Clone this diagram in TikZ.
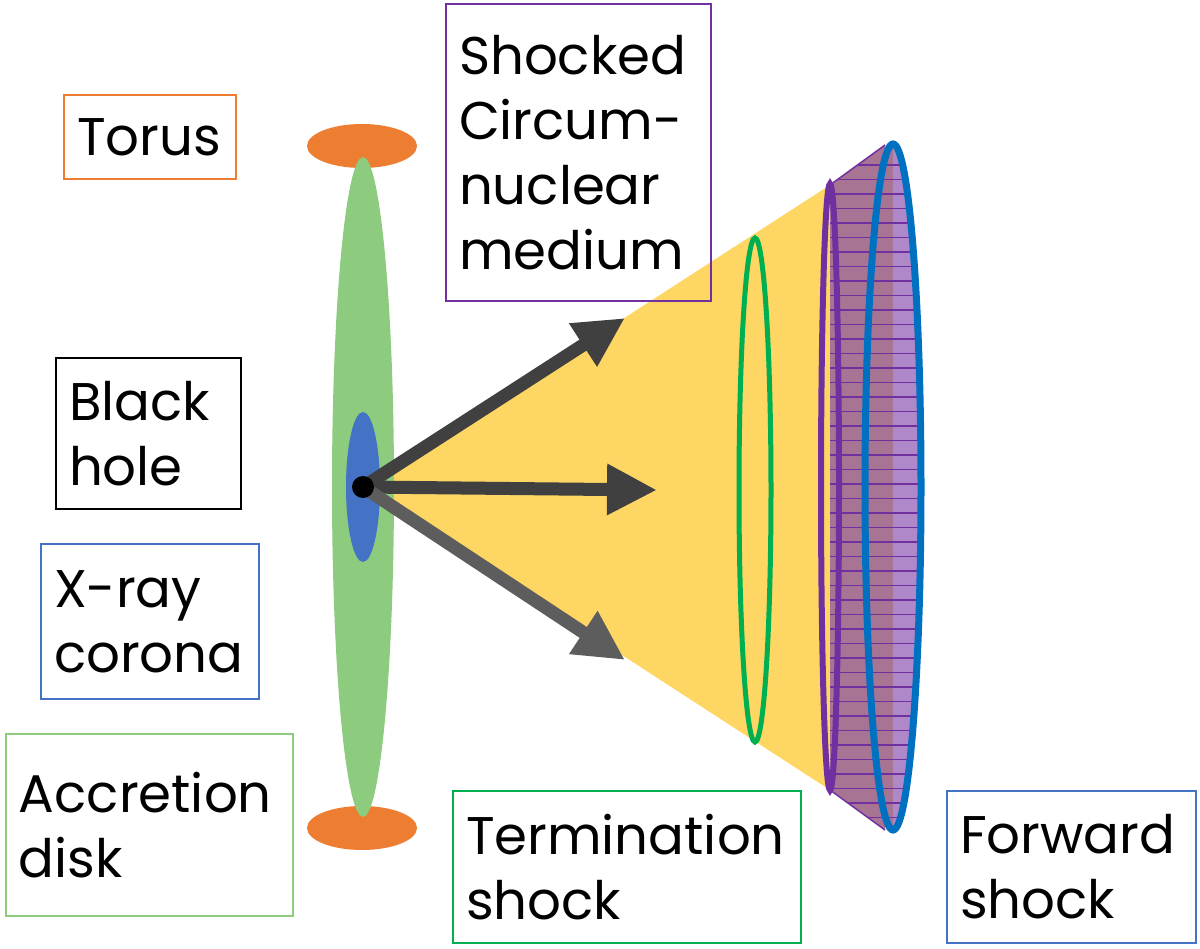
\documentclass[tikz,border=0pt]{standalone}
\usepackage{fontspec}
\setmainfont{Poppins}
\usetikzlibrary{arrows.meta}
\definecolor{torusc}{HTML}{ED7D31}
\definecolor{diskc}{HTML}{8DCB7E}
\definecolor{coronac}{HTML}{4472C4}
\definecolor{conec}{HTML}{FDD663}
\definecolor{shellc}{HTML}{A87494}
\definecolor{lavc}{HTML}{AE88C8}
\definecolor{purplec}{HTML}{7030A0}
\definecolor{fwdc}{HTML}{0070C0}
\definecolor{termc}{HTML}{00B050}
\definecolor{arrowc}{HTML}{404040}
\tikzset{%
	lbl/.style={draw, line width=2pt, anchor=north west, align=left, inner xsep=13pt, inner ysep=4pt,
		font=\fontsize{53}{65}\selectfont},
	jet/.style={line width=13pt, arrowc, -{Triangle[length=50pt,width=48pt]}}}

\begin{document}
\begin{tikzpicture}[x=1pt,y=-1pt]
		\useasboundingbox (0,0) rectangle (1200,949);
		% cone and shell
		\fill[conec] (363,487) -- (830,185) -- (830,790) -- cycle;
		\fill[shellc] (830,185) -- (885,145) -- (885,830) -- (830,790) -- cycle;
		\fill[shellc] (893,487) ellipse [x radius=28, y radius=343];
		\begin{scope}
			\clip (893,100) rectangle (1000,900);
			\fill[lavc] (893,487) ellipse [x radius=28, y radius=343];
		\end{scope}
		\begin{scope}
			\clip (830,185) -- (885,145) -- (893,144) -- (893,830) -- (885,830) -- (830,790) -- cycle;
			\foreach \i in {0,...,45}
				\draw[purplec, line width=1.2pt] (830,{165+\i*14.5}) -- (930,{165+\i*14.5});
		\end{scope}
		\begin{scope}
			\clip (893,487) ellipse [x radius=28, y radius=343];
			\foreach \i in {0,...,45}
				\draw[purplec, line width=1.2pt] (830,{165+\i*14.5}) -- (930,{165+\i*14.5});
		\end{scope}
		\draw[purplec, line width=1.5pt] (830,185) -- (885,145) (830,790) -- (885,830);
		\draw[purplec, line width=6pt] (830,487) ellipse [x radius=9, y radius=303];
		\draw[fwdc, line width=7pt] (893,487) ellipse [x radius=28, y radius=343];
		\draw[termc, line width=5pt] (755,490) ellipse [x radius=16, y radius=252];
		% source
		\fill[torusc] (362,146) ellipse [x radius=55, y radius=22];
		\fill[torusc] (362,828) ellipse [x radius=55, y radius=22];
		\fill[diskc] (363,487) ellipse [x radius=31, y radius=330];
		\fill[coronac] (363,487) ellipse [x radius=17, y radius=75];
		\coordinate (BH) at (363,487);
		\coordinate (UP) at (625,318);
		\coordinate (MID) at (657,490);
		\coordinate (LO) at (625,660);
		\draw[jet] (BH) -- (UP);
		\draw[jet] (BH) -- (MID);
		\draw[jet, arrowc!85] (BH) -- (LO);
		\node[circle, fill=black, minimum size=22pt, inner sep=0pt] (DOT) at (BH) {};
		% labels
		\node[lbl, torusc, text=black, text width=146pt, minimum height=84pt] (TO) at (63,94) {Torus};
		\node[lbl, purplec, text=black, text width=239pt, minimum height=297pt] (SC) at (445,3) {Shocked\\Circum-\\nuclear\\medium};
		\node[lbl, black, text width=159pt, minimum height=151pt] (BL) at (55,357) {Black\\hole};
		\node[lbl, coronac, text=black, text width=192pt, minimum height=155pt] (XR) at (40,543) {X-ray\\corona};
		\node[lbl, diskc, text=black, text width=261pt, minimum height=182pt] (AD) at (5,733) {Accretion\\disk};
		\node[lbl, termc, text=black, text width=322pt, minimum height=152pt] (TS) at (452,790) {Termination\\shock};
		\node[lbl, coronac, text=black, text width=223pt, minimum height=152pt] (FS) at (946,790) {Forward\\shock};
	\end{tikzpicture}
\end{document}
